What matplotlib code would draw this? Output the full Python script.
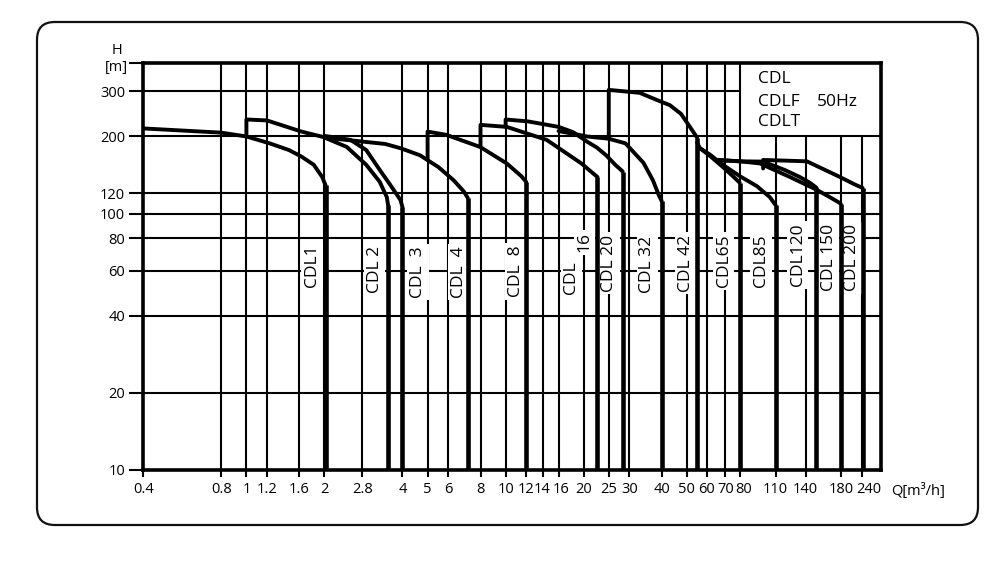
import numpy as np
import matplotlib.pyplot as plt
from matplotlib.patches import FancyBboxPatch
from matplotlib.ticker import NullLocator
from matplotlib.transforms import ScaledTranslation

plt.rcParams['font.family'] = ['Open Sans', 'DejaVu Sans']

# axis ticks
q_ticks = [0.4, 0.8, 1, 1.2, 1.6, 2, 2.8, 4, 5, 6, 8, 10, 12, 14, 16, 20, 25, 30,
           40, 50, 60, 70, 80, 110, 140, 180, 240]
q_labels = ['0.4', '0.8', '1', '1.2', '1.6', '2', '2.8', '4', '5', '6', '8', '10', '12',
            '14', '16', '20', '25', '30', '40', '50', '60', '70', '80', '110', '140',
            '180', '240']
h_ticks = [10, 20, 40, 60, 80, 100, 120, 200, 300]

# pump curves (Q m3/h, H m), last point is the drop to the bottom
cdl1_q = [0.4, 0.8, 1.0, 1.23, 1.46, 1.63, 1.82, 1.96, 2.02, 2.02]
cdl1_h = [215, 207, 200, 188, 177, 167, 155, 139, 129, 10]
cdl2_q = [1.0, 1.0, 1.2, 1.63, 1.98, 2.44, 2.9, 3.27, 3.48, 3.52, 3.52]
cdl2_h = [200, 233, 231, 209, 199, 182, 155, 133, 116, 108, 10]
cdl3_q = [2.0, 2.52, 2.9, 3.27, 3.56, 3.93, 4.0, 4.0]
cdl3_h = [201, 194, 177, 148, 131, 113, 106, 10]
cdl4_q = [2.1, 3.43, 3.93, 4.67, 5.5, 6.3, 6.9, 7.15, 7.15]
cdl4_h = [197, 187, 180, 169, 152, 135, 122, 115, 10]
cdl8_q = [5, 5, 5.9, 7.98, 10.1, 11.5, 12.0, 12.0]
cdl8_h = [162, 209, 203, 182, 157, 140, 133, 10]
cdl16_q = [8, 8, 10.1, 14.4, 19.6, 21.5, 22.6, 22.6]
cdl16_h = [182, 222, 218, 194, 157, 145, 139, 10]
cdl20_q = [10, 10, 12.2, 16, 18.2, 20.6, 22.5, 24.4, 26.5, 28.3, 28.3]
cdl20_h = [218, 233, 229, 218, 208, 191, 181, 169, 155, 146, 10]
cdl32_q = [16, 19.6, 20.6, 25, 29, 34, 37, 39, 40, 40]
cdl32_h = [210, 202, 200, 196, 188, 158, 135, 118, 112, 10]
cdl42_q = [25, 25, 32.9, 38.2, 43, 47.5, 51.4, 54.8, 54.8]
cdl42_h = [197, 304, 296, 278, 265, 245, 218, 198, 10]
cdl65_q = [54.8, 56.2, 61.4, 68.9, 75.3, 80.0, 80.0]
cdl65_h = [189, 180, 168, 152, 140, 132, 10]
cdl85_q = [56.2, 61.4, 68.9, 80.1, 93.2, 104.5, 110, 110]
cdl85_h = [180, 170, 155, 140, 128, 116, 108, 10]
cdl120_q = [65.1, 80.1, 98.5, 118.5, 133.6, 144.3, 151, 151]
cdl120_h = [162, 160, 159.6, 148, 139, 132, 126.5, 10]
cdl150_q = [65.1, 80.1, 95.7, 123.4, 151.4, 166.3, 178.8, 180, 180]
cdl150_h = [162, 160, 157, 139, 124, 116, 110, 109, 10]
cdl200_q = [98.5, 98.5, 141.3, 178.8, 217, 241, 241]
cdl200_h = [150, 162, 160, 139, 130, 126, 10]

curves = [(cdl1_q, cdl1_h), (cdl2_q, cdl2_h), (cdl3_q, cdl3_h), (cdl4_q, cdl4_h),
          (cdl8_q, cdl8_h), (cdl16_q, cdl16_h), (cdl20_q, cdl20_h), (cdl32_q, cdl32_h),
          (cdl42_q, cdl42_h), (cdl65_q, cdl65_h), (cdl85_q, cdl85_h),
          (cdl120_q, cdl120_h), (cdl150_q, cdl150_h), (cdl200_q, cdl200_h)]

# curve labels
label_text = ['CDL1', 'CDL 2', 'CDL  3', 'CDL  4', 'CDL  8', 'CDL', '16', 'CDL 20',
              'CDL 32', 'CDL 42', 'CDL65', 'CDL85', 'CDL120', 'CDL 150', 'CDL 200']
label_q = [1.79, 3.12, 4.59, 6.58, 10.96, 17.9, 20.1, 25.1, 35.2, 49.6, 69.5, 96.6,
           131.5, 165, 210]
label_h = [62.5, 60.8, 59.2, 59.2, 59.5, 56.4, 77.2, 64.2, 63.6, 64.2, 65.3, 65.3,
           69, 67.5, 67.2]

# the chart's Q axis: logarithmic, with the last cells drawn a bit unevenly
anchor_q = np.log10([0.4, 110, 140, 180, 240])
anchor_pos = np.array([0, 632.4, 662.4, 697.7, 719.0])
slope = 259.25


def q_fwd(q):
    lq = np.log10(np.clip(np.asarray(q, dtype=float), 1e-9, None))
    out = np.interp(lq, anchor_q, anchor_pos)
    out = np.where(lq < anchor_q[0], anchor_pos[0] + (lq - anchor_q[0]) * slope, out)
    out = np.where(lq > anchor_q[-1], anchor_pos[-1] + (lq - anchor_q[-1]) * slope, out)
    return out


def q_inv(p):
    p = np.asarray(p, dtype=float)
    lq = np.interp(p, anchor_pos, anchor_q)
    lq = np.where(p < anchor_pos[0], anchor_q[0] + (p - anchor_pos[0]) / slope, lq)
    lq = np.where(p > anchor_pos[-1], anchor_q[-1] + (p - anchor_pos[-1]) / slope, lq)
    return 10 ** lq


fig = plt.figure(figsize=(9.86, 5.64), dpi=100)
ax = fig.add_axes([0.1453, 0.1667, 0.7479, 0.7211])
ax.set_xscale('function', functions=(q_fwd, q_inv))
ax.set_yscale('log')
q_max = 283
h_max = 386
ax.set_xlim(0.4, q_max)
ax.set_ylim(10, h_max)

# grid
low = [q for q in q_ticks[1:] if q <= 80]
high = [q for q in q_ticks if q > 80]
ax.vlines(low, 10, h_max, color='black', lw=1.5, zorder=1)
ax.vlines(high, 10, 200, color='black', lw=1.5, zorder=1)
ax.hlines([h for h in h_ticks[1:] if h != 300], 0.4, q_max, color='black', lw=1.5, zorder=1)
ax.hlines(300, 0.4, 80, color='black', lw=1.5, zorder=1)

for q, h in curves:
    ax.plot(q[:-1], h[:-1], color='black', lw=2.8, solid_joinstyle='round',
            solid_capstyle='round', zorder=3)
    ax.plot(q[-2:], h[-2:], color='black', lw=3.3, solid_capstyle='butt', zorder=3)

for t, q, h in zip(label_text, label_q, label_h):
    ax.text(q, h, t, rotation=90, ha='center', va='center', fontsize=12.5, zorder=2,
            bbox=dict(boxstyle='square,pad=0.15', fc='white', ec='none'))

for s in ax.spines.values():
    s.set_linewidth(2.6)

ax.set_xticks(q_ticks)
ax.set_xticklabels(q_labels)
ax.set_yticks(h_ticks + [h_max])
ax.set_yticklabels([str(h) for h in h_ticks] + [''])
ax.xaxis.set_minor_locator(NullLocator())
ax.yaxis.set_minor_locator(NullLocator())
ax.tick_params(axis='x', direction='out', length=5, width=1.5, pad=4, labelsize=10.5)
ax.tick_params(axis='y', direction='out', length=10, width=1.5, pad=3, labelsize=10.5)

# a few x labels sit slightly off their lines, as in the original
nudge = {'14': -0.015, '16': 0.03, '60': -0.01, '70': 0.01, '80': 0.035, '240': 0.07}
for lab in ax.get_xticklabels():
    if lab.get_text() in nudge:
        lab.set_transform(lab.get_transform() +
                          ScaledTranslation(nudge[lab.get_text()], 0, fig.dpi_scale_trans))

fig.text(116.7 / 986, 1 - 50 / 564, 'H', ha='center', va='center', fontsize=10.5)
fig.text(116.7 / 986, 1 - 68 / 564, '[m]', ha='center', va='center', fontsize=10.5)
fig.text(891 / 986, 1 - 491 / 564, 'Q[m³/h]', ha='left', va='center', fontsize=10.5)

fig.text(758 / 986, 1 - 79 / 564, 'CDL', ha='left', va='center', fontsize=12.5)
fig.text(758 / 986, 1 - 101.5 / 564, 'CDLF', ha='left', va='center', fontsize=12.5)
fig.text(816.7 / 986, 1 - 101.5 / 564, '50Hz', ha='left', va='center', fontsize=12.5)
fig.text(758 / 986, 1 - 122.5 / 564, 'CDLT', ha='left', va='center', fontsize=12.5)

frame = FancyBboxPatch((37 / 986, 1 - 525 / 564), 941 / 986, 503 / 564,
                       boxstyle='round,pad=0,rounding_size=0.018',
                       mutation_aspect=986 / 564, transform=fig.transFigure,
                       fill=False, lw=1.6, ec='#111111')
fig.patches.append(frame)

fig.savefig('out.png', dpi=100)
